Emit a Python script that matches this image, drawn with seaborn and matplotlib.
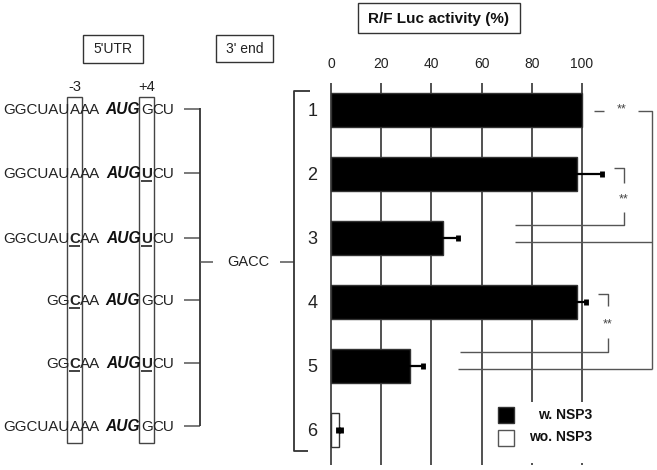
"""Luciferase reporter: AUG context mutants with and without NSP3."""

import matplotlib

matplotlib.use("Agg")
import matplotlib.pyplot as plt
import numpy as np
import pandas as pd
import seaborn as sns
from matplotlib.patches import Rectangle

# bar data
constructs = ["1", "2", "3", "4", "5", "6"]
activity = [100, 98, 44.5, 98, 31.5, 3.3]
activity_err = [0, 10, 6, 3.5, 5.3, 0.6]
nsp3 = ["w. NSP3"] * 5 + ["wo. NSP3"]

# 5'UTR sequences around the start codon
seq_prefix = ["GGCUAU", "GGCUAU", "GGCUAU", "GG", "GG", "GGCUAU"]
seq_minus3 = ["A", "A", "C", "C", "C", "A"]
seq_plus4 = ["G", "U", "U", "G", "U", "G"]
mut_minus3 = [False, False, True, True, True, False]
mut_plus4 = [False, True, True, False, True, False]

PALETTE = {"w. NSP3": "black", "wo. NSP3": "white"}
LINE = "#333333"
FS_SEQ = 10.9

sns.set_style("white")
plt.rcParams["font.family"] = ["Liberation Sans", "DejaVu Sans"]

fig = plt.figure(figsize=(6.57, 4.70), dpi=100)

# ---- bar panel -------------------------------------------------------------
px_unit = 2.51
ax = fig.add_axes([(331 - px_unit) / 657, 5 / 470, (251 + 2 * px_unit) / 657, 382 / 470])
df = pd.DataFrame({"construct": constructs, "activity": activity, "nsp3": nsp3})
sns.barplot(
    data=df, x="activity", y="construct", hue="nsp3", palette=PALETTE,
    dodge=False, width=0.52, errorbar=None, edgecolor="#333333", linewidth=1,
    legend=False, ax=ax,
)
err = np.array(activity_err)
vals = np.array(activity)
pos = np.arange(len(constructs))
keep = err > 0
eb = ax.errorbar(
    vals[keep], pos[keep], xerr=err[keep], fmt="none",
    ecolor="black", elinewidth=1.6, capsize=2.5, capthick=3.5, zorder=3,
)
for art in list(eb.lines[1]) + list(eb.lines[2]):
    art.set_clip_on(False)

ax.set_xlim(-1, 101)
ax.set_ylim(5.547, -0.42)
ax.set_xticks([0, 20, 40, 60, 80, 100])
ax.xaxis.tick_top()
ax.tick_params(axis="x", length=0, pad=9, labelsize=10, colors="#222222")
ax.tick_params(axis="y", length=0, pad=8, labelsize=13, colors="#222222")
ax.set_xlabel("")
ax.set_ylabel("")
for s in ax.spines.values():
    s.set_visible(False)
ax.xaxis.grid(True, color="#222222", lw=1.1)
ax.yaxis.grid(False)
ax.set_axisbelow(True)


def seg(xs, ys):
    ax.plot(xs, ys, color="#555555", lw=1.0, clip_on=False, solid_capstyle="butt")


# significance marks
STAR = dict(ha="center", va="center", fontsize=9, color="#444444")
seg([104.8, 108.8], [0.02, 0.02])
ax.text(115.8, 0.0, "**", **STAR)
seg([122.3, 127.8, 127.8], [0.025, 0.025, 4.05])
seg([73.3, 127.8], [2.07, 2.07])
seg([50.7, 127.8], [4.05, 4.05])

seg([112.9, 116.7, 116.7], [0.91, 0.91, 1.145])
ax.text(116.6, 1.40, "**", **STAR)
seg([116.7, 116.7, 73.3], [1.59, 1.80, 1.80])

seg([106.3, 110.2, 110.2], [2.875, 2.875, 3.07])
ax.text(110.3, 3.35, "**", **STAR)
seg([110.2, 110.2, 51.4], [3.57, 3.78, 3.78])

# ---- overlay in pixel coordinates ----------------------------------------------
ov = fig.add_axes([0, 0, 1, 1], zorder=5)
ov.set_xlim(0, 657)
ov.set_ylim(470, 0)
ov.axis("off")
ov.patch.set_visible(False)
renderer = fig.canvas.get_renderer()


def xspan(t):
    bb = t.get_window_extent(renderer)
    return bb.x0, bb.x1


def line(xs, ys, lw=1.3, color=LINE):
    ov.plot(xs, ys, color=color, lw=lw, solid_capstyle="butt")


row_y = [109, 173, 238, 300, 362.7, 425.7]
for i, y in enumerate(row_y):
    base = y + 5.3
    t3 = ov.text(74.8, base, seq_minus3[i], ha="center", va="baseline", fontsize=FS_SEQ,
                 fontweight="bold" if mut_minus3[i] else "normal", color="#222222")
    x0, x1 = xspan(t3)
    ov.text(x0, base, seq_prefix[i], ha="right", va="baseline", fontsize=FS_SEQ, color="#222222")
    ov.text(x1, base, "AA", ha="left", va="baseline", fontsize=FS_SEQ, color="#222222")
    if mut_minus3[i]:
        line([x0, x1], [base + 2.6] * 2, lw=1.2, color="#222222")
    t4 = ov.text(146.8, base, seq_plus4[i], ha="center", va="baseline", fontsize=FS_SEQ,
                 fontweight="bold" if mut_plus4[i] else "normal", color="#222222")
    a0, a1 = xspan(t4)
    ov.text(a0 - 1.0, base, "AUG", ha="right", va="baseline", fontsize=11.2,
            fontweight="bold", style="italic", color="#111111")
    ov.text(a1, base, "CU", ha="left", va="baseline", fontsize=FS_SEQ, color="#222222")
    if mut_plus4[i]:
        line([a0, a1], [base + 2.6] * 2, lw=1.2, color="#222222")
    line([184, 200], [y, y], lw=1.1, color="#555555")

# position boxes
for cx, lab in [(74.8, "-3"), (146.8, "+4")]:
    ov.add_patch(Rectangle((cx - 7.5, 96.7), 15, 346, fill=False, ec="#444444", lw=1.0))
    ov.text(cx, 87, lab, ha="center", va="center", fontsize=10.5, color="#222222")

# brackets joining sequences to the 3' end and the constructs
line([200, 200], [row_y[0] - 0.6, row_y[-1] + 0.6])
line([200, 213], [261.7, 261.7], lw=1.1, color="#555555")
ov.text(248, 261.7, "GACC", ha="center", va="center", fontsize=10.5, color="#222222")
line([280, 294], [261.7, 261.7], lw=1.1, color="#555555")
line([310, 294, 294, 308], [90.7, 90.7, 450.7, 450.7])

# header boxes
ov.add_patch(Rectangle((82.7, 35), 60.6, 27.7, fill=False, ec="#333333", lw=1.0))
ov.text(113, 49, "5'UTR", ha="center", va="center", fontsize=10, color="#222222")
ov.add_patch(Rectangle((216, 35), 57.3, 27, fill=False, ec="#333333", lw=1.0))
ov.text(244.7, 49, "3' end", ha="center", va="center", fontsize=10, color="#222222")
ov.add_patch(Rectangle((357.7, 3.3), 162.3, 29.4, fill=False, ec="#333333", lw=1.0))
ov.text(438.9, 18.5, "R/F Luc activity (%)", ha="center", va="center", fontsize=11,
        fontweight="bold", color="#111111")

# legend
ov.add_patch(Rectangle((488, 401.5), 112, 61, fc="white", ec="none"))
ov.add_patch(Rectangle((497.7, 406.7), 16.6, 16, fc=PALETTE["w. NSP3"], ec="#333333", lw=1))
ov.add_patch(Rectangle((497.7, 430), 16.6, 15.7, fc=PALETTE["wo. NSP3"], ec="#555555", lw=1))
ov.text(592.5, 415, "w. NSP3", ha="right", va="center", fontsize=10, fontweight="bold", color="#111111")
ov.text(592.5, 436.7, "wo. NSP3", ha="right", va="center", fontsize=10, fontweight="bold", color="#111111")

fig.savefig("out.png", dpi=100)
